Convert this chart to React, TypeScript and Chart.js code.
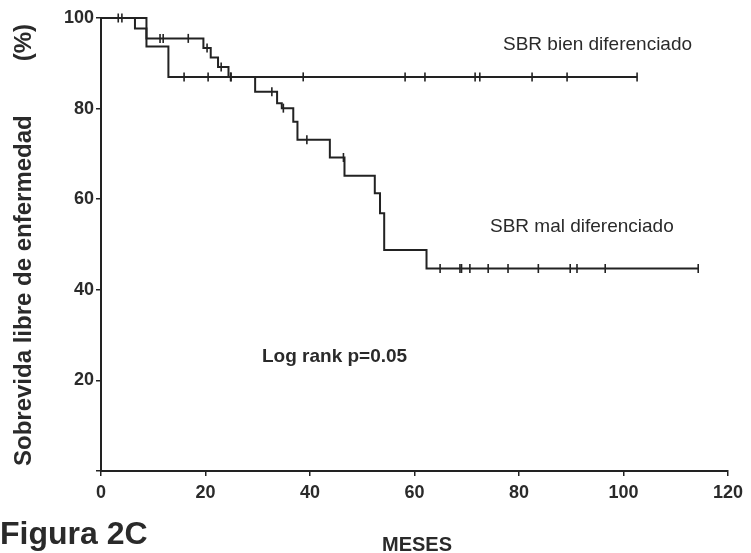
import React, { useEffect, useRef } from 'react';
import { Chart, registerables } from 'chart.js';

Chart.register(...registerables);

// ---- Data ----
const xTickValues = [0, 20, 40, 60, 80, 100, 120];
const yTickValues = [20, 40, 60, 80, 100];

// SBR bien diferenciado (Kaplan-Meier steps)
const bienTimes = [0, 8.7, 12.9, 102.6];
const bienSurv = [100, 93.7, 87.0, 87.0];
const bienCensorTimes = [3.3, 15.9, 20.5, 24.9, 38.7, 58.2, 62.0, 71.6, 72.5, 82.5, 89.2, 102.6];

// SBR mal diferenciado (Kaplan-Meier steps)
const malTimes = [0, 6.5, 8.7, 19.6, 21.0, 22.4, 24.4, 29.5, 33.7, 34.6, 36.8, 37.6, 43.8, 46.6, 52.4, 53.4, 54.2, 62.3, 114.3];
const malSurv = [100, 97.7, 95.5, 93.4, 91.3, 89.2, 87.0, 83.7, 81.2, 80.1, 77.1, 73.1, 69.2, 65.2, 61.3, 56.9, 48.8, 44.7, 44.7];
const malCensorTimes = [4.0, 11.3, 11.9, 16.7, 20.3, 23.0, 24.8, 32.7, 34.9, 39.4, 46.4, 64.9, 68.7, 69.0, 70.6, 74.1, 77.9, 83.7, 89.8, 91.1, 96.5, 114.3];

const labelBien = 'SBR bien diferenciado';
const labelMal = 'SBR mal diferenciado';
const logRankText = 'Log rank p=0.05';
const figureText = 'Figura 2C';
const xTitle = 'MESES';
const yTitleMain = 'Sobrevida libre de enfermedad';
const yTitleUnit = '(%)';

const INK = '#222222';
const TEXT = '#2a2a2a';
const FONT = '"Liberation Sans", Arial, sans-serif';

function survAt(times: number[], surv: number[], t: number): number {
  let v = surv[0];
  for (let i = 0; i < times.length; i++) {
    if (times[i] <= t) v = surv[i];
  }
  return v;
}

const toPoints = (xs: number[], ys: number[]) => xs.map((x, i) => ({ x, y: ys[i] }));
const censorPoints = (cts: number[], times: number[], surv: number[]) =>
  cts.map((t) => ({ x: t, y: survAt(times, surv, t) }));

const textPlugin = {
  id: 'textAnnotations',
  afterDraw(chart: any) {
    const ctx = chart.ctx as CanvasRenderingContext2D;
    ctx.save();
    ctx.fillStyle = TEXT;
    ctx.textBaseline = 'alphabetic';
    ctx.textAlign = 'left';

    ctx.font = `19px ${FONT}`;
    ctx.fillText(labelBien, 503, 50);
    ctx.fillText(labelMal, 490, 232);

    ctx.font = `bold 19px ${FONT}`;
    ctx.fillText(logRankText, 262, 362);

    ctx.font = `bold 32px ${FONT}`;
    ctx.fillText(figureText, 0, 544);

    ctx.font = `bold 20px ${FONT}`;
    ctx.fillText(xTitle, 382, 551);

    // rotated y title
    ctx.translate(31, 0);
    ctx.rotate(-Math.PI / 2);
    ctx.font = `bold 24px ${FONT}`;
    ctx.textAlign = 'left';
    ctx.fillText(yTitleMain, -466, 0);
    ctx.textAlign = 'right';
    ctx.fillText(yTitleUnit, -24, 0);
    ctx.restore();
  },
};

export default function App() {
  const canvasRef = useRef<HTMLCanvasElement | null>(null);

  useEffect(() => {
    const canvas = canvasRef.current;
    if (!canvas) return;
    const lineStyle = {
      borderColor: INK,
      borderWidth: 2,
      pointRadius: 0,
      stepped: true as const,
      fill: false,
      tension: 0,
    };
    const censorStyle = {
      showLine: false,
      pointStyle: 'line' as const,
      rotation: 90,
      pointRadius: 4.5,
      pointBorderWidth: 1.6,
      pointBorderColor: INK,
      pointBackgroundColor: INK,
      borderColor: INK,
    };
    const chart = new Chart(canvas, {
      type: 'line',
      data: {
        datasets: [
          { label: labelBien, data: toPoints(bienTimes, bienSurv), ...lineStyle },
          { label: labelMal, data: toPoints(malTimes, malSurv), ...lineStyle },
          { label: labelBien + ' censurados', data: censorPoints(bienCensorTimes, bienTimes, bienSurv), ...censorStyle },
          { label: labelMal + ' censurados', data: censorPoints(malCensorTimes, malTimes, malSurv), ...censorStyle },
        ],
      },
      options: {
        animation: false,
        responsive: false,
        devicePixelRatio: 1,
        clip: false as any,
        layout: { padding: { top: 18, right: 23, left: 0, bottom: 0 } },
        plugins: {
          legend: { display: false },
          tooltip: { enabled: false },
          title: { display: false },
        },
        scales: {
          x: {
            type: 'linear',
            min: 0,
            max: 120,
            afterBuildTicks: (scale: any) => {
              scale.ticks = xTickValues.map((v) => ({ value: v }));
            },
            ticks: {
              color: TEXT,
              font: { family: FONT, size: 18, weight: 'bold' },
              padding: 6,
              maxRotation: 0,
            },
            grid: { display: true, drawOnChartArea: false, drawTicks: true, tickLength: 5, color: INK, lineWidth: 1.5 },
            border: { display: true, color: INK, width: 2 },
            afterFit: (scale: any) => {
              scale.height = 82;
            },
          },
          y: {
            type: 'linear',
            min: 0,
            max: 100,
            afterBuildTicks: (scale: any) => {
              scale.ticks = [0, ...yTickValues].map((v) => ({ value: v }));
            },
            ticks: {
              color: TEXT,
              font: { family: FONT, size: 18, weight: 'bold' },
              padding: 2,
              callback: (v: any) => (v === 0 ? '' : String(v)),
            },
            grid: { display: true, drawOnChartArea: false, drawTicks: true, tickLength: 5, color: INK, lineWidth: 1.5 },
            border: { display: true, color: INK, width: 2 },
            afterFit: (scale: any) => {
              scale.width = 101;
            },
          },
        },
      },
      plugins: [textPlugin],
    });
    return () => chart.destroy();
  }, []);

  return (
    <div style={{ position: 'absolute', left: 0, top: 0, width: 751, height: 553, background: '#ffffff' }}>
      <canvas ref={canvasRef} width={751} height={553} style={{ display: 'block' }} />
    </div>
  );
}
